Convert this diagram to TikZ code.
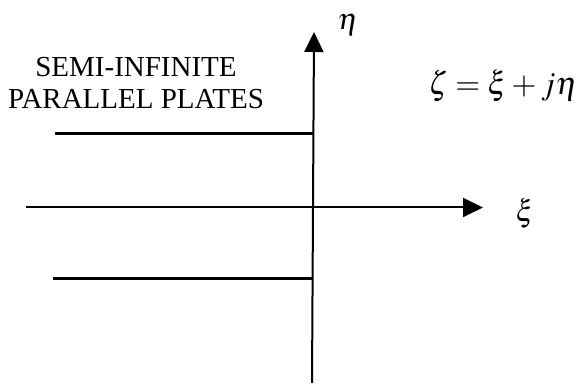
\documentclass[tikz,border=0pt]{standalone}
\usepackage{mathptmx}
\usepackage{fontspec}
\setmainfont{Liberation Serif}
\usepackage{tikz}
\usetikzlibrary{arrows.meta}

\begin{document}
\begin{tikzpicture}[x=1pt,y=1pt,
        axis/.style={line width=2pt,-{Triangle[length=20pt,width=19pt]}},
        plate/.style={line width=3pt},
        lbl/.style={inner sep=0pt,font=\fontsize{30}{34}\selectfont}]
      \useasboundingbox (0,0) rectangle (581,387);
      \coordinate (ybot) at (312,4);
      \coordinate (ytop) at (314,355);
      \coordinate (xleft) at (26,179.5);
      \coordinate (xright) at (483,179.5);
      \coordinate (upstart) at (55,253);
      \coordinate (upend) at (313,253);
      \coordinate (lowstart) at (53,108);
      \coordinate (lowend) at (312,108);
      \draw[axis] (ybot) -- (ytop);
      \draw[axis] (xleft) -- (xright);
      \draw[plate] (upstart) -- (upend);
      \draw[plate] (lowstart) -- (lowend);
      \node[lbl] (eta) at (348,362) {$\eta$};
      \node[lbl] (xi) at (525,174) {$\xi$};
      \node[lbl,font=\fontsize{32}{36}\selectfont] (zeta) at (503,301) {$\zeta=\xi+j\eta$};
      \node[align=center,anchor=base,font=\fontsize{29}{32}\selectfont] (plates) at (136,278)
        {SEMI-INFINITE\\PARALLEL PLATES};
    \end{tikzpicture}
\end{document}
